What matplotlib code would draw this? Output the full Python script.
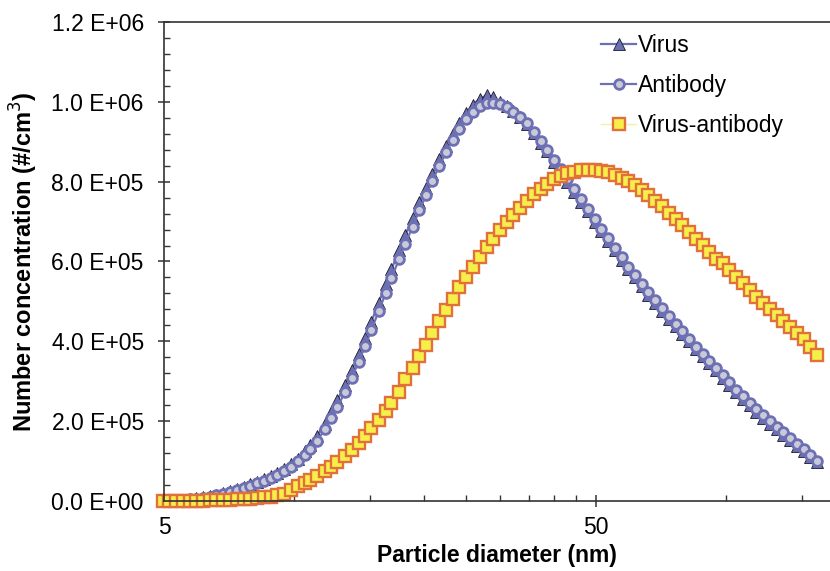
import numpy as np
import matplotlib.pyplot as plt
from matplotlib.ticker import FixedLocator, FixedFormatter, NullFormatter

plt.rcParams['font.family'] = ['Liberation Sans', 'DejaVu Sans']

# SMPS channel midpoint diameters (nm), 64 ch/decade
diameter = [4.96, 5.14, 5.33, 5.52, 5.73, 5.94, 6.15, 6.38, 6.61, 6.85,
            7.10, 7.37, 7.64, 7.91, 8.20, 8.51, 8.82, 9.14, 9.47, 9.82,
            10.2, 10.6, 10.9, 11.3, 11.8, 12.2, 12.6, 13.1, 13.6, 14.1,
            14.6, 15.1, 15.7, 16.3, 16.8, 17.5, 18.1, 18.8, 19.5, 20.2,
            20.9, 21.7, 22.5, 23.3, 24.1, 25.0, 25.9, 26.9, 27.9, 28.9,
            30.0, 31.1, 32.2, 33.4, 34.6, 35.9, 37.2, 38.5, 40.0, 41.4,
            42.9, 44.5, 46.1, 47.8, 49.6, 51.4, 53.3, 55.2, 57.3, 59.4,
            61.5, 63.8, 66.1, 68.5, 71.0, 73.7, 76.4, 79.1, 82.0, 85.1,
            88.2, 91.4, 94.7, 98.2, 101.8, 105.5, 109.4, 113.4, 117.6, 121.9,
            126.3, 131.0, 135.8, 140.7, 145.9, 151.2, 156.8, 162.5]

# number concentrations, in thousands of #/cm3
virus_k = [0, 1, 2, 3, 5, 7, 9, 12, 16, 20,
           25, 30, 36, 42, 48, 55, 62, 70, 80, 92,
           106, 124, 140, 163, 194, 222, 252, 290, 327, 367,
           408, 449, 497, 543, 580, 628, 667, 708, 748, 785,
           820, 857, 890, 920, 948, 972, 992, 1008, 1016, 1012,
           1000, 989, 977, 962, 945, 922, 898, 876, 850, 826,
           800, 775, 750, 726, 700, 676, 652, 628, 604, 581,
           560, 538, 517, 497, 477, 457, 438, 419, 400, 381,
           363, 345, 327, 309, 291, 273, 256, 240, 224, 209,
           194, 180, 166, 152, 138, 124, 111, 97]

antibody_k = [0, 1, 2, 3, 4, 6, 8, 11, 14, 18,
              22, 27, 32, 38, 44, 51, 58, 66, 75, 86,
              99, 115, 130, 151, 180, 207, 235, 272, 309, 348,
              388, 428, 476, 521, 558, 606, 645, 687, 728, 766,
              802, 840, 874, 905, 933, 957, 975, 989, 996, 998,
              994, 986, 975, 962, 947, 925, 902, 880, 855, 831,
              806, 781, 756, 731, 706, 682, 658, 634, 610, 587,
              566, 544, 523, 503, 483, 463, 444, 425, 406, 387,
              369, 351, 333, 315, 297, 279, 262, 246, 230, 215,
              200, 186, 172, 158, 144, 130, 116, 100]

virus_ab_k = [0, 0, 0, 0, 1, 1, 1, 2, 2, 3,
              3, 4, 5, 6, 7, 9, 11, 14, 18, 28,
              37, 46, 53, 62, 74, 86, 97, 112, 128, 146,
              163, 182, 203, 226, 245, 272, 305, 333, 362, 392,
              420, 450, 478, 505, 535, 562, 586, 612, 636, 657,
              678, 698, 716, 735, 752, 768, 782, 794, 806, 815,
              821, 825, 828, 829, 829, 827, 823, 817, 810, 801,
              791, 779, 766, 752, 738, 722, 706, 691, 675, 657,
              641, 624, 607, 596, 579, 562, 545, 528, 512, 496,
              481, 466, 451, 436, 421, 406, 386, 366]

x_major = [5, 50]
x_minor = [10, 15, 20, 25, 30, 35, 40, 45, 100, 150]
y_major = [0, 2e5, 4e5, 6e5, 8e5, 1e6, 1.2e6]
y_labels = ['0.0 E+00', '2.0 E+05', '4.0 E+05', '6.0 E+05',
            '8.0 E+05', '1.0 E+06', '1.2 E+06']

fig = plt.figure(figsize=(8.3, 5.71), dpi=100)
ax = fig.add_axes([0.1976, 0.1226, 0.8024, 0.8389])

d = np.array(diameter)
ax.plot(d, np.array(virus_k) * 1e3, '-^', color='#6a70b2', lw=1.6,
        ms=8, mfc='#6a70b2', mec='#1a1a2a', mew=0.6, clip_on=False,
        label='Virus')
ax.plot(d, np.array(antibody_k) * 1e3, '-o', color='#6f71b4', lw=1.6,
        ms=7, mfc='#c9c9d8', mec='#6d70b4', mew=2, clip_on=False,
        label='Antibody')
ax.plot(d, np.array(virus_ab_k) * 1e3, '-s', color='#f4f2a0', lw=1,
        ms=8, mfc='#f6ef4a', mec='#e2703a', mew=1.7, clip_on=False,
        label='Virus-antibody')

ax.set_xscale('log')
ax.set_xlim(5, 174)
ax.set_ylim(0, 1.2e6)

ax.xaxis.set_major_locator(FixedLocator(x_major))
ax.xaxis.set_major_formatter(FixedFormatter([str(v) for v in x_major]))
ax.xaxis.set_minor_locator(FixedLocator(x_minor))
ax.xaxis.set_minor_formatter(NullFormatter())
ax.yaxis.set_major_locator(FixedLocator(y_major))
ax.yaxis.set_major_formatter(FixedFormatter(y_labels))
ax.yaxis.set_minor_locator(FixedLocator(np.arange(0, 1.2e6, 4e4)))

ax.tick_params(axis='both', which='major', direction='inout', length=9,
               width=1.1, color='#333333', labelsize=16.5)
ax.tick_params(axis='both', which='minor', direction='in', length=4,
               width=1, color='#333333')
ax.tick_params(axis='x', which='major', pad=6)
ax.tick_params(axis='y', which='major', pad=10)

for s in ['left', 'bottom', 'top']:
    ax.spines[s].set_color('#333333')
    ax.spines[s].set_linewidth(1.2)
ax.spines['right'].set_visible(False)

ax.set_xlabel('Particle diameter (nm)', fontsize=16.5, fontweight='bold',
              labelpad=4)
ax.set_ylabel('Number concentration (#/cm$^3$)', fontsize=17,
              fontweight='bold', labelpad=8)

ax.legend(loc='upper left', bbox_to_anchor=(0.643, 0.995), frameon=False,
          fontsize=16.5, handlelength=1.5, handletextpad=0.1,
          labelspacing=0.75, borderaxespad=0)

fig.savefig('out.png', dpi=100)
